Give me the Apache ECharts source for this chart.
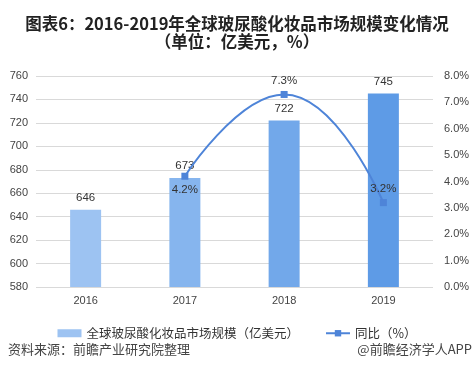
<!DOCTYPE html>
<html><head><meta charset="utf-8">
<script src="https://cdn.jsdelivr.net/npm/echarts@6/dist/echarts.min.js"></script>
<style>html,body{margin:0;padding:0;background:#fff}#c{width:474px;height:381px}</style>
</head><body><div id="c"></div>
<script>
var categories = ['2016', '2017', '2018', '2019'];
var marketSize = [646, 673, 722, 745];
var yoy = [null, 4.2, 7.3, 3.2];
var barColors = ['#9dc3f2', '#86b5ee', '#72a8ea', '#5e9be6'];
var leftTicks = [580, 760, 20];
var rightTicks = [0, 8, 1];

var chart = echarts.init(document.getElementById('c'));
var font = '"Noto Sans CJK SC", "Microsoft YaHei", sans-serif';
chart.setOption({
  animation: false,
  textStyle: { fontFamily: font },
  title: {
    text: '图表6：2016-2019年全球玻尿酸化妆品市场规模变化情况\n（单位：亿美元，%）',
    left: 'center', top: 10,
    textStyle: { fontSize: 16.5, fontWeight: 'bold', color: '#222', lineHeight: 18, fontFamily: font }
  },
  legend: {
    top: 322, left: 'center', itemGap: 26, itemWidth: 24, itemHeight: 8,
    textStyle: { fontSize: 12.5, color: '#333' },
    data: [
      { name: '全球玻尿酸化妆品市场规模（亿美元）', icon: 'rect' },
      { name: '同比（%）' }
    ]
  },
  graphic: [
    { type: 'text', left: 8, top: 343, style: { text: '资料来源：前瞻产业研究院整理', font: '13px ' + font, fill: '#444' } },
    { type: 'text', right: 2, top: 343, style: { text: '@前瞻经济学人APP', font: '13px ' + font, fill: '#444' } }
  ],
  grid: { left: 36, right: 41, top: 76, bottom: 94 },
  xAxis: {
    type: 'category', data: categories,
    axisLine: { show: false }, axisTick: { show: false },
    axisLabel: { color: '#444', fontSize: 11, margin: 8, fontFamily: 'sans-serif' }
  },
  yAxis: [
    {
      type: 'value', min: leftTicks[0], max: leftTicks[1], interval: leftTicks[2],
      axisLine: { show: false }, axisTick: { show: false },
      axisLabel: { color: '#444', fontSize: 11, margin: 8, fontFamily: 'sans-serif' },
      splitLine: { lineStyle: { color: '#d9d9d9' } }
    },
    {
      type: 'value', min: rightTicks[0], max: rightTicks[1], interval: rightTicks[2],
      axisLine: { show: false }, axisTick: { show: false },
      axisLabel: { color: '#444', fontSize: 11, margin: 11, fontFamily: 'sans-serif',
        formatter: function (v) { return v.toFixed(1) + '%'; } },
      splitLine: { show: false }
    }
  ],
  series: [
    {
      name: '全球玻尿酸化妆品市场规模（亿美元）', type: 'bar', barWidth: 31,
      itemStyle: { color: barColors[0] },
      data: marketSize.map(function (v, i) { return { value: v, itemStyle: { color: barColors[i] } }; }),
      label: { show: true, position: 'top', color: '#333', fontSize: 11.5, distance: 6, fontFamily: 'sans-serif' }
    },
    {
      name: '同比（%）', type: 'line', yAxisIndex: 1, smooth: 0.5,
      symbol: 'rect', symbolSize: 7,
      lineStyle: { color: '#4e84d8', width: 2 },
      itemStyle: { color: '#4e84d8' },
      data: yoy.map(function (v, i) {
        if (v === null) return null;
        return { value: v, label: { position: i === 1 ? 'bottom' : 'top' } };
      }),
      label: { show: true, color: '#333', fontSize: 11.5, distance: 4, fontFamily: 'sans-serif',
        formatter: function (p) { return p.value.toFixed(1) + '%'; } }
    }
  ]
});
</script></body></html>
